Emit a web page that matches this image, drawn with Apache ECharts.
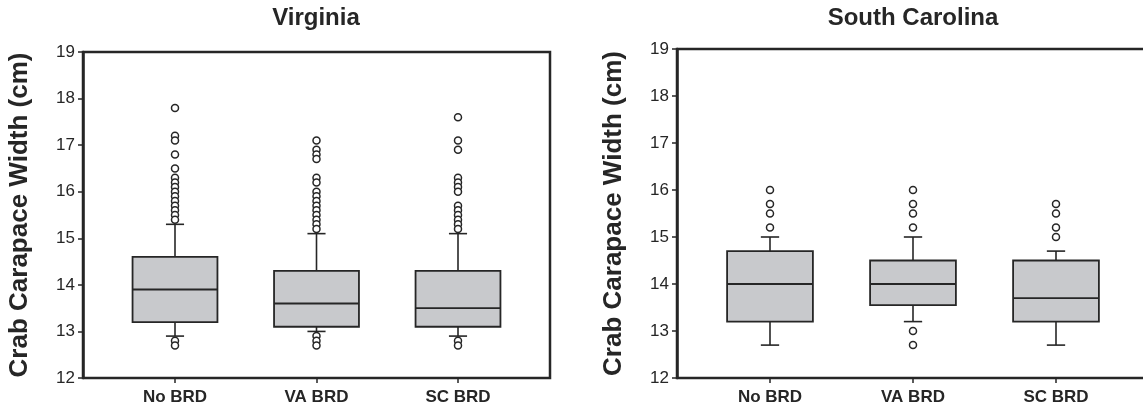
<!DOCTYPE html>
<html>
<head>
<meta charset="utf-8">
<script src="https://cdn.jsdelivr.net/npm/echarts@6/dist/echarts.min.js"></script>
<style>html,body{margin:0;padding:0;background:#fff}#c{width:1143px;height:417px}</style>
</head>
<body>
<div id="c"></div>
<script>
// ---- data ----
const categories = ['No BRD', 'VA BRD', 'SC BRD'];
const yTicks = [12, 13, 14, 15, 16, 17, 18, 19];
// [lower whisker, Q1, median, Q3, upper whisker]
const vaNoBrdBox = [12.9, 13.2, 13.9, 14.6, 15.3];
const vaVaBrdBox = [13.0, 13.1, 13.6, 14.3, 15.1];
const vaScBrdBox = [12.9, 13.1, 13.5, 14.3, 15.1];
const scNoBrdBox = [12.7, 13.2, 14.0, 14.7, 15.0];
const scVaBrdBox = [13.2, 13.55, 14.0, 14.5, 15.0];
const scScBrdBox = [12.7, 13.2, 13.7, 14.5, 14.7];
// outliers
const vaNoBrdOut = [17.8, 17.2, 17.1, 16.8, 16.5, 16.3, 16.2, 16.1, 16.0, 15.9, 15.8, 15.7, 15.6, 15.5, 15.4, 12.8, 12.7];
const vaVaBrdOut = [17.1, 16.9, 16.8, 16.7, 16.3, 16.2, 16.0, 15.9, 15.8, 15.7, 15.6, 15.5, 15.4, 15.3, 15.2, 12.9, 12.8, 12.7];
const vaScBrdOut = [17.6, 17.1, 16.9, 16.3, 16.2, 16.1, 16.0, 15.7, 15.6, 15.5, 15.4, 15.3, 15.2, 12.8, 12.7];
const scNoBrdOut = [16.0, 15.7, 15.5, 15.2];
const scVaBrdOut = [16.0, 15.7, 15.5, 15.2, 13.0, 12.7];
const scScBrdOut = [15.7, 15.5, 15.2, 15.0];

const titles = ['Virginia', 'South Carolina'];
const yName = 'Crab Carapace Width (cm)';

// ---- build ----
const boxSets = [[vaNoBrdBox, vaVaBrdBox, vaScBrdBox], [scNoBrdBox, scVaBrdBox, scScBrdBox]];
const outSets = [[vaNoBrdOut, vaVaBrdOut, vaScBrdOut], [scNoBrdOut, scVaBrdOut, scScBrdOut]];

const INK = '#262626';
const FONT = '"Liberation Sans", Arial, Helvetica, sans-serif';

// frame grids (0,2) and data grids (1,3)
const grids = [
  {left: 83, top: 52, width: 467, height: 326, show: true, borderColor: INK, borderWidth: 2.5, backgroundColor: 'transparent', outerBoundsMode: 'none', containLabel: false},
  {left: 104.25, top: 52, width: 424.5, height: 326, outerBoundsMode: 'none', containLabel: false},
  {left: 677, top: 49, width: 490, height: 329, show: true, borderColor: INK, borderWidth: 2.5, backgroundColor: 'transparent', outerBoundsMode: 'none', containLabel: false},
  {left: 698.5, top: 49, width: 429, height: 329, outerBoundsMode: 'none', containLabel: false}
];

const xAxes = [], yAxes = [];
[0, 1].forEach(function (p) {
  // frame x (hidden)
  xAxes.push({gridIndex: 2 * p, type: 'value', min: 0, max: 1, show: false});
  // data x (category)
  xAxes.push({
    gridIndex: 2 * p + 1, type: 'category', data: categories, boundaryGap: true,
    axisLine: {show: false},
    axisTick: {show: true, alignWithLabel: true, length: 5, lineStyle: {color: INK, width: 1.5}},
    axisLabel: {color: INK, fontFamily: FONT, fontWeight: 'bold', fontSize: 17, margin: 11},
    splitLine: {show: false}
  });
  // frame y (visible)
  yAxes.push({
    gridIndex: 2 * p, type: 'value', min: yTicks[0], max: yTicks[yTicks.length - 1], interval: 1,
    axisLine: {show: true, lineStyle: {color: INK, width: 2.5}},
    axisTick: {show: true, length: 5, lineStyle: {color: INK, width: 1.5}},
    axisLabel: {color: INK, fontFamily: FONT, fontSize: 17, margin: 8},
    splitLine: {show: false},
    name: yName, nameLocation: 'middle', nameGap: 50, nameRotate: 90,
    nameTextStyle: {color: INK, fontFamily: FONT, fontWeight: 'bold', fontSize: 26}
  });
  // data y (hidden)
  yAxes.push({gridIndex: 2 * p + 1, type: 'value', min: yTicks[0], max: yTicks[yTicks.length - 1], show: false});
});

function renderBox(params, api) {
  const x = api.value(0);
  const lo = api.coord([x, api.value(1)]);
  const q1 = api.coord([x, api.value(2)]);
  const med = api.coord([x, api.value(3)]);
  const q3 = api.coord([x, api.value(4)]);
  const hi = api.coord([x, api.value(5)]);
  const band = api.size([1, 0])[0];
  const hw = band * 0.3;
  const cw = band * 0.064;
  const cx = med[0];
  const ls = {stroke: INK, lineWidth: 1.6};
  return {
    type: 'group',
    children: [
      {type: 'line', shape: {x1: cx, y1: hi[1], x2: cx, y2: q3[1]}, style: ls},
      {type: 'line', shape: {x1: cx, y1: q1[1], x2: cx, y2: lo[1]}, style: ls},
      {type: 'line', shape: {x1: cx - cw, y1: hi[1], x2: cx + cw, y2: hi[1]}, style: ls},
      {type: 'line', shape: {x1: cx - cw, y1: lo[1], x2: cx + cw, y2: lo[1]}, style: ls},
      {type: 'rect', shape: {x: cx - hw, y: q3[1], width: 2 * hw, height: q1[1] - q3[1]},
        style: {fill: '#c8c9cc', stroke: INK, lineWidth: 1.8}},
      {type: 'line', shape: {x1: cx - hw, y1: med[1], x2: cx + hw, y2: med[1]}, style: {stroke: INK, lineWidth: 1.8}}
    ]
  };
}

const series = [];
[0, 1].forEach(function (p) {
  const boxData = boxSets[p].map(function (b, i) { return [i].concat(b); });
  series.push({
    type: 'custom', xAxisIndex: 2 * p + 1, yAxisIndex: 2 * p + 1,
    renderItem: renderBox, data: boxData,
    encode: {x: 0, y: [1, 2, 3, 4, 5]}, z: 2, silent: true
  });
  const outData = [];
  outSets[p].forEach(function (arr, i) { arr.forEach(function (v) { outData.push([i, v]); }); });
  series.push({
    type: 'scatter', xAxisIndex: 2 * p + 1, yAxisIndex: 2 * p + 1,
    data: outData, symbol: 'circle', symbolSize: 7,
    itemStyle: {color: '#ffffff', borderColor: INK, borderWidth: 1.5, opacity: 1},
    z: 3, silent: true
  });
});

const chart = echarts.init(document.getElementById('c'), null, {renderer: 'canvas'});
chart.setOption({
  animation: false,
  backgroundColor: '#ffffff',
  title: [
    {text: titles[0], left: 316, top: 6, textAlign: 'center', padding: 0,
      textStyle: {color: INK, fontFamily: FONT, fontWeight: 'bold', fontSize: 24}},
    {text: titles[1], left: 913, top: 6, textAlign: 'center', padding: 0,
      textStyle: {color: INK, fontFamily: FONT, fontWeight: 'bold', fontSize: 24}}
  ],
  grid: grids,
  xAxis: xAxes,
  yAxis: yAxes,
  series: series
});
</script>
</body>
</html>
